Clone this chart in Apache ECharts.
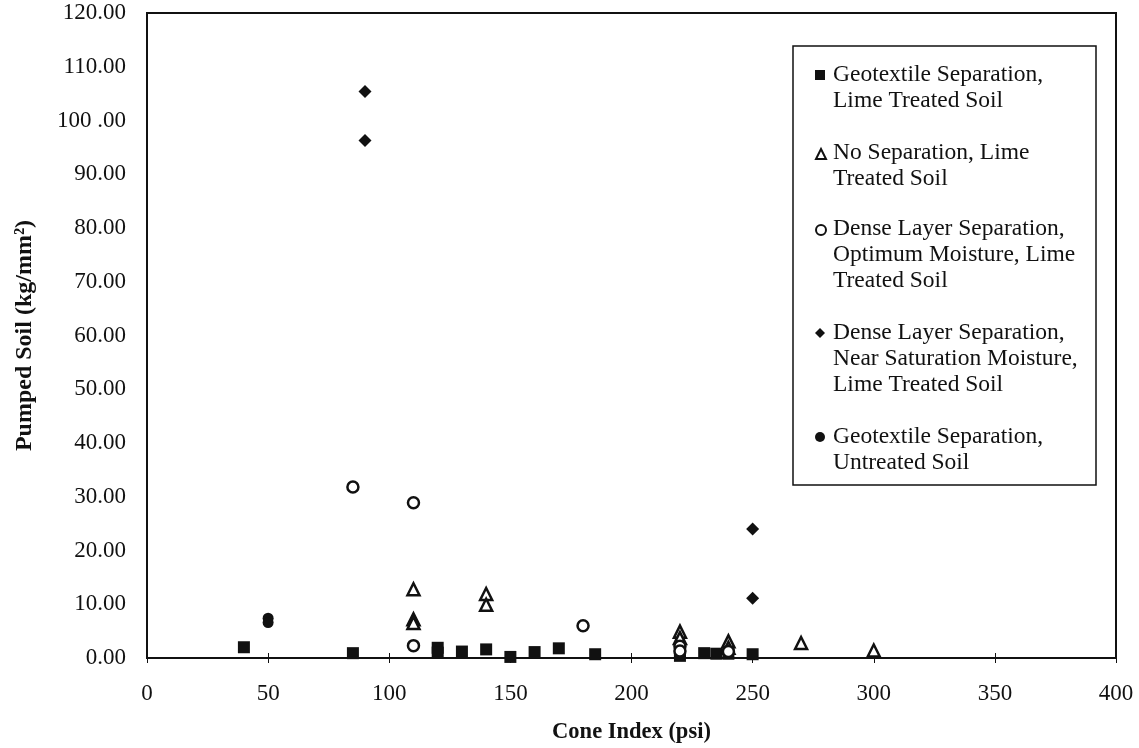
<!DOCTYPE html>
<html>
<head>
<meta charset="utf-8">
<script src="https://cdn.jsdelivr.net/npm/echarts@6/dist/echarts.min.js"></script>
<style>
  html, body { margin: 0; padding: 0; background: #fff; }
  #chart { width: 1139px; height: 748px; }
</style>
</head>
<body>
<div id="chart"></div>
<script>
  // series names
  const seriesNames = [
    'Geotextile Separation,\nLime Treated Soil',
    'No Separation, Lime\nTreated Soil',
    'Dense Layer Separation,\nOptimum Moisture, Lime\nTreated Soil',
    'Dense Layer Separation,\nNear Saturation Moisture,\nLime Treated Soil',
    'Geotextile Separation,\nUntreated Soil'
  ]

  // Geotextile separation, lime treated
  const geoLimeX = [40, 85, 120, 120, 130, 140, 150, 160, 170, 185, 220, 220, 230, 235, 240, 250]
  const geoLimeY = [2.0, 0.9, 1.9, 1.0, 1.2, 1.6, 0.2, 1.1, 1.8, 0.7, 1.0, 0.4, 0.9, 0.8, 0.8, 0.7]

  // No separation, lime treated
  const noSepX = [110, 110, 110, 140, 140, 220, 220, 240, 240, 270, 300]
  const noSepY = [12.8, 7.2, 6.5, 11.9, 9.9, 4.9, 3.7, 3.1, 1.9, 2.8, 1.4]

  // Dense layer, optimum moisture
  const denseOptX = [85, 110, 110, 180, 220, 220, 240]
  const denseOptY = [31.8, 28.9, 2.3, 6.0, 2.2, 1.3, 1.2]

  // Dense layer, near saturation
  const denseSatX = [90, 90, 250, 250]
  const denseSatY = [105.4, 96.3, 24.0, 11.1]

  // Geotextile separation, untreated
  const geoUntrX = [50, 50]
  const geoUntrY = [7.4, 6.6]

  const yTickLabels = {
    0: '0.00', 10: '10.00', 20: '20.00', 30: '30.00', 40: '40.00', 50: '50.00',
    60: '60.00', 70: '70.00', 80: '80.00', 90: '90.00', 100: '100 .00',
    110: '110.00', 120: '120.00'
  }

  const zip = (xs, ys) => xs.map((x, i) => [x, ys[i]])
  const FONT = '"Liberation Serif", "DejaVu Serif", serif'
  const INK = '#111'

  const chart = echarts.init(document.getElementById('chart'))

  // legend: icons from the legend component (one per entry, so the icon sits
  // on the first text line), the wrapped labels as plain text next to them
  const legendFirstLineY = [75, 153, 229, 333, 437]
  const LH = 26
  const legends = seriesNames.map((name, i) => ({
    data: [name],
    left: 815,
    top: legendFirstLineY[i] - 5,
    padding: 0,
    itemWidth: 10,
    itemHeight: 10,
    selectedMode: false,
    formatter: () => '',
    itemStyle: {borderWidth: 2}
  }))
  const legendTexts = seriesNames.map((name, i) => ({
    type: 'text',
    x: 833,
    y: legendFirstLineY[i] - LH / 2,
    style: {
      text: name,
      font: '23.5px ' + FONT,
      lineHeight: LH,
      fill: INK,
      verticalAlign: 'top'
    },
    z: 10
  }))

  const option = {
    backgroundColor: '#fff',
    animation: false,
    legend: legends,
    graphic: [{
      type: 'rect',
      shape: {x: 793, y: 46, width: 303, height: 439},
      style: {fill: 'none', stroke: INK, lineWidth: 1.5},
      z: 10
    }].concat(legendTexts),
    grid: {
      left: 147,
      right: 23,
      top: 13,
      bottom: 90,
      outerBoundsMode: 'none',
      show: true,
      borderColor: INK,
      borderWidth: 2
    },
    xAxis: [{
      type: 'value',
      min: 0,
      max: 400,
      interval: 50,
      name: 'Cone Index (psi)',
      nameLocation: 'middle',
      nameGap: 63,
      nameTextStyle: {fontFamily: FONT, fontSize: 22.5, fontWeight: 'bold', color: INK},
      splitLine: {show: false},
      axisLine: {lineStyle: {color: INK, width: 2}},
      axisTick: {length: 5, lineStyle: {color: INK}},
      axisLabel: {fontFamily: FONT, fontSize: 23, color: INK, margin: 24}
    }, {
      type: 'value',
      min: 0,
      max: 400,
      interval: 50,
      position: 'bottom',
      splitLine: {show: false},
      axisLine: {show: false},
      axisTick: {inside: true, length: 5, lineStyle: {color: INK}},
      axisLabel: {show: false}
    }],
    yAxis: {
      type: 'value',
      min: 0,
      max: 120,
      interval: 10,
      name: 'Pumped Soil (kg/mm²)',
      nameLocation: 'middle',
      nameGap: 110,
      nameTextStyle: {fontFamily: FONT, fontSize: 24, fontWeight: 'bold', color: INK},
      splitLine: {show: false},
      axisLine: {show: true, lineStyle: {color: INK, width: 2}},
      axisTick: {show: false},
      axisLabel: {
        fontFamily: FONT,
        fontSize: 23,
        color: INK,
        margin: 21,
        formatter: v => yTickLabels[v]
      }
    },
    series: [{
      name: seriesNames[0],
      type: 'scatter',
      symbol: 'rect',
      symbolSize: 12,
      itemStyle: {color: INK, opacity: 1},
      data: zip(geoLimeX, geoLimeY)
    }, {
      name: seriesNames[1],
      type: 'scatter',
      symbol: 'triangle',
      symbolSize: 12,
      itemStyle: {color: '#fff', borderColor: INK, borderWidth: 2.5, opacity: 1},
      data: zip(noSepX, noSepY)
    }, {
      name: seriesNames[2],
      type: 'scatter',
      symbol: 'circle',
      symbolSize: 11,
      itemStyle: {color: '#fff', borderColor: INK, borderWidth: 2.5, opacity: 1},
      data: zip(denseOptX, denseOptY)
    }, {
      name: seriesNames[3],
      type: 'scatter',
      symbol: 'diamond',
      symbolSize: 13,
      itemStyle: {color: INK, opacity: 1},
      data: zip(denseSatX, denseSatY)
    }, {
      name: seriesNames[4],
      type: 'scatter',
      symbol: 'circle',
      symbolSize: 11,
      itemStyle: {color: INK, opacity: 1},
      data: zip(geoUntrX, geoUntrY)
    }]
  }

  chart.setOption(option)
</script>
</body>
</html>
